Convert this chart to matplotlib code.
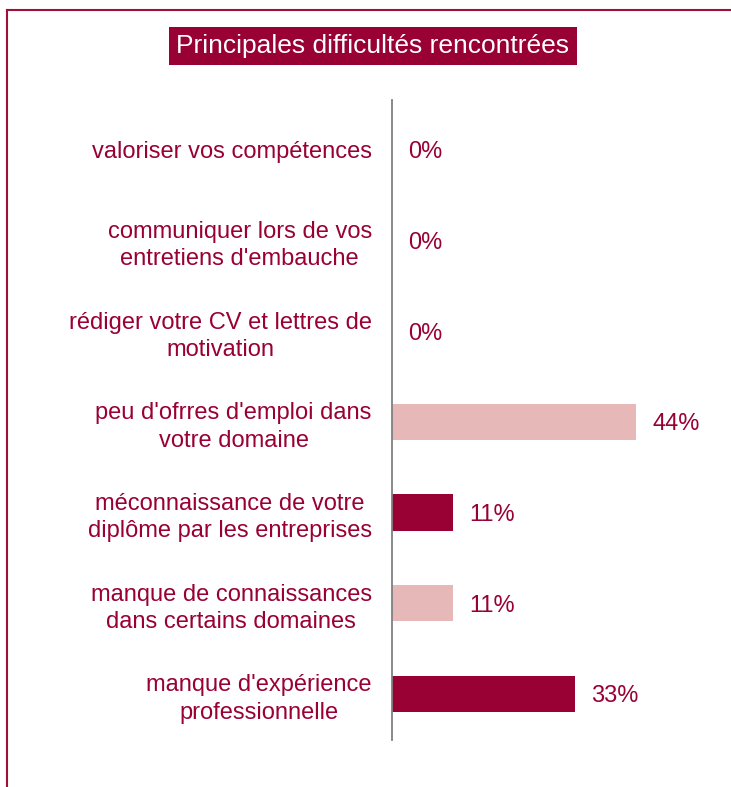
import matplotlib
matplotlib.use("Agg")
import matplotlib.pyplot as plt
from matplotlib.lines import Line2D

categories = [
    "valoriser vos compétences",
    "communiquer lors de vos\nentretiens d'embauche",
    "rédiger votre CV et lettres de\nmotivation",
    "peu d'ofrres d'emploi dans\nvotre domaine",
    "méconnaissance de votre\ndiplôme par les entreprises",
    "manque de connaissances\ndans certains domaines",
    "manque d'expérience\nprofessionnelle",
]
values = [0, 0, 0, 44, 11, 11, 33]
value_labels = ["0%", "0%", "0%", "44%", "11%", "11%", "33%"]
title = "Principales difficultés rencontrées"

DARK = "#990033"
LIGHT = "#E6B9B8"
colors = [LIGHT, DARK, LIGHT, LIGHT, DARK, LIGHT, DARK]

plt.rcParams['font.family'] = ['Liberation Sans', 'DejaVu Sans']

W, H = 731, 787
fig = plt.figure(figsize=(W / 100, H / 100), dpi=100)

x0, x1 = 392, 725
y0, y1 = 100, 740
ax = fig.add_axes([x0 / W, 1 - y1 / H, (x1 - x0) / W, (y1 - y0) / H])

ypos = list(range(len(categories)))
ax.barh(ypos, values, height=0.4, color=colors)
ax.set_xlim(0, 60)
ax.set_ylim(len(categories) - 0.49, -0.55)

for s in ["top", "right", "bottom"]:
    ax.spines[s].set_visible(False)
ax.spines["left"].set_color("#808080")
ax.spines["left"].set_linewidth(1.3)
ax.set_xticks([])
ax.set_yticks(ypos)
ax.set_yticklabels(categories, fontsize=17, color=DARK, multialignment="center", linespacing=1.32)
ax.tick_params(axis="y", length=0, pad=14.5)

for y, v, lab in zip(ypos, values, value_labels):
    ax.annotate(lab, (v, y), xytext=(16, 0), textcoords="offset pixels",
                ha="left", va="center_baseline", fontsize=17, color=DARK)

fig.text(373 / W, 1 - 46 / H, title, ha="center", va="center", fontsize=19, color="white",
         bbox=dict(boxstyle="square,pad=0.27", fc=DARK, ec="none"))

fig.add_artist(Line2D([7 / W, 7 / W], [0, 1 - 10 / H], color="#A0103A", lw=1.5, transform=fig.transFigure))
fig.add_artist(Line2D([7 / W, 1], [1 - 10 / H, 1 - 10 / H], color="#A0103A", lw=1.5, transform=fig.transFigure))

fig.savefig("out.png", dpi=100)
